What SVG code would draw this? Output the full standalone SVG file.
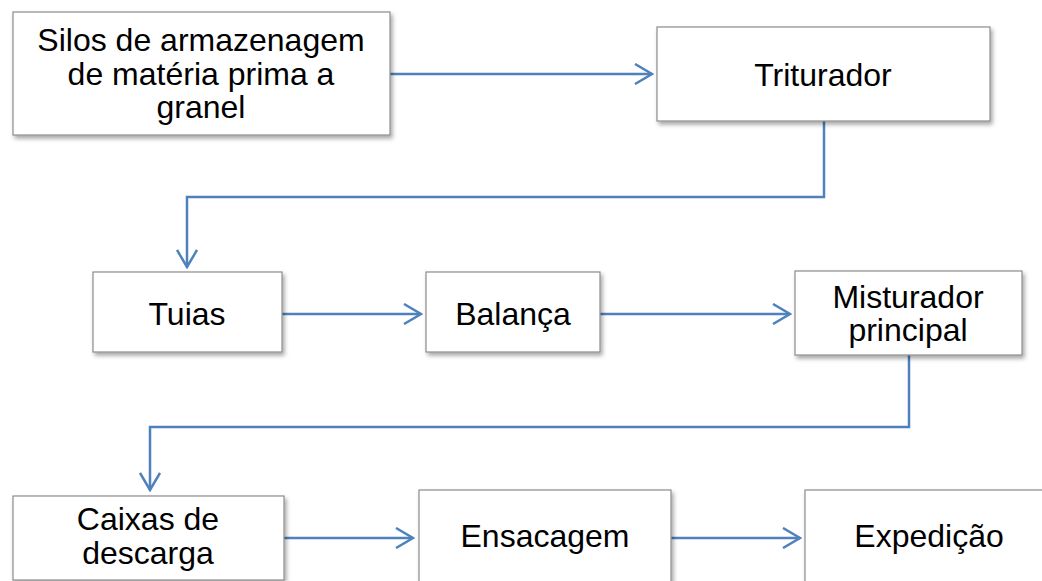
<svg xmlns="http://www.w3.org/2000/svg" width="1042" height="581" viewBox="0 0 1042 581">
<style>
.box{fill:#ffffff;stroke:#8c8c8c;stroke-width:1.2;filter:url(#sh)}
.t{font-family:"Liberation Sans",Arial,sans-serif;font-size:32px;fill:#000;text-anchor:middle}
.c{fill:none;stroke:#4f81bd;stroke-width:2.5;marker-end:url(#ah)}
</style>
<defs>
<filter id="sh" x="-10%" y="-10%" width="130%" height="140%">
<feDropShadow dx="2" dy="3" stdDeviation="2" flood-color="#000" flood-opacity="0.35"/>
</filter>
<marker id="ah" viewBox="0 0 20 22" refX="18" refY="11" markerWidth="20" markerHeight="22" markerUnits="userSpaceOnUse" orient="auto">
<path d="M1,1 L18,11 L1,21" fill="none" stroke="#4f81bd" stroke-width="2.5"/>
</marker>
</defs>
<rect width="1042" height="581" fill="#ffffff"/>
<g id="connectors">
<path class="c" d="M390,74 L652,74"/>
<path class="c" d="M824,121 L824,197 L187,197 L187,267"/>
<path class="c" d="M282,314 L421,314"/>
<path class="c" d="M600,314 L790,314"/>
<path class="c" d="M909,355 L909,427 L150,427 L150,490"/>
<path class="c" d="M284,538 L413,538"/>
<path class="c" d="M671,538 L800,538"/>
</g>
<g id="silos">
<rect class="box" x="13" y="12" width="377" height="123"/>
<text class="t" x="201" y="51">Silos de armazenagem</text>
<text class="t" x="201" y="85">de matéria prima a</text>
<text class="t" x="201" y="118">granel</text>
</g>
<g id="triturador">
<rect class="box" x="657" y="27" width="333" height="94"/>
<text class="t" x="823" y="86">Triturador</text>
</g>
<g id="tuias">
<rect class="box" x="93" y="272" width="189" height="80"/>
<text class="t" x="187" y="325">Tuias</text>
</g>
<g id="balanca">
<rect class="box" x="426" y="272" width="174" height="80"/>
<text class="t" x="513" y="325">Balança</text>
</g>
<g id="misturador">
<rect class="box" x="795" y="271" width="227" height="84"/>
<text class="t" x="908" y="308">Misturador</text>
<text class="t" x="908" y="341">principal</text>
</g>
<g id="caixas">
<rect class="box" x="13" y="496" width="271" height="84"/>
<text class="t" x="148" y="530">Caixas de</text>
<text class="t" x="148" y="564">descarga</text>
</g>
<g id="ensacagem">
<rect class="box" x="419" y="490" width="252" height="100"/>
<text class="t" x="545" y="547">Ensacagem</text>
</g>
<g id="expedicao">
<rect class="box" x="805" y="490" width="250" height="100"/>
<text class="t" x="929" y="547">Expedição</text>
</g>
</svg>
